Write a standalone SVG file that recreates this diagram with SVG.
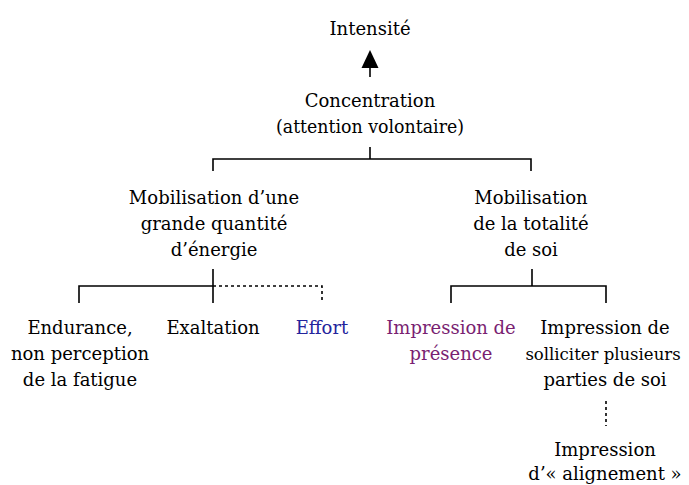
<svg xmlns="http://www.w3.org/2000/svg" width="689" height="485" viewBox="0 0 689 485">
<style>
text{font-family:"DejaVu Serif","Liberation Serif",serif;font-size:18px;fill:#000;text-anchor:middle}
.sm{font-size:16.5px}
.blue{fill:#24249c}
.purple{fill:#7a1f72}
.ln{stroke:#000;stroke-width:1.6;fill:none}
.dash{stroke:#000;stroke-width:1.6;fill:none;stroke-dasharray:3 3}
</style>
<rect width="689" height="485" fill="#fff"/>
<g id="connectors">
<path class="ln" d="M370 68V77"/>
<polygon points="370,50 361.5,68 378.5,68" fill="#000"/>
<path class="ln" d="M370 147V159M213 171V159H531V171"/>
<path class="ln" d="M213 269V303M79 303V286H213"/>
<path class="dash" d="M213 286H322V303"/>
<path class="ln" d="M532 269V286M451 303V286H606V303"/>
<path class="dash" d="M606 401V426"/>
</g>
<g id="intensite"><text x="370" y="35">Intensité</text></g>
<g id="concentration"><text x="370" y="107">Concentration</text><text x="370" y="133" textLength="188" lengthAdjust="spacingAndGlyphs">(attention volontaire)</text></g>
<g id="mob-energie"><text x="214" y="204">Mobilisation d’une</text><text x="214" y="230">grande quantité</text><text x="214" y="256">d’énergie</text></g>
<g id="mob-soi"><text x="531" y="204">Mobilisation</text><text x="531" y="230">de la totalité</text><text x="531" y="256">de soi</text></g>
<g id="endurance"><text x="80" y="334">Endurance,</text><text x="80" y="360">non perception</text><text x="80" y="386">de la fatigue</text></g>
<g id="exaltation"><text x="213" y="334">Exaltation</text></g>
<g id="effort"><text class="blue" x="322" y="334">Effort</text></g>
<g id="presence"><text class="purple" x="451" y="334">Impression de</text><text class="purple" x="451" y="360">présence</text></g>
<g id="solliciter"><text x="605" y="334">Impression de</text><text class="sm" x="603" y="360">solliciter plusieurs</text><text x="605" y="386">parties de soi</text></g>
<g id="alignement"><text x="605" y="456">Impression</text><text x="605" y="480">d’« alignement »</text></g>
</svg>
